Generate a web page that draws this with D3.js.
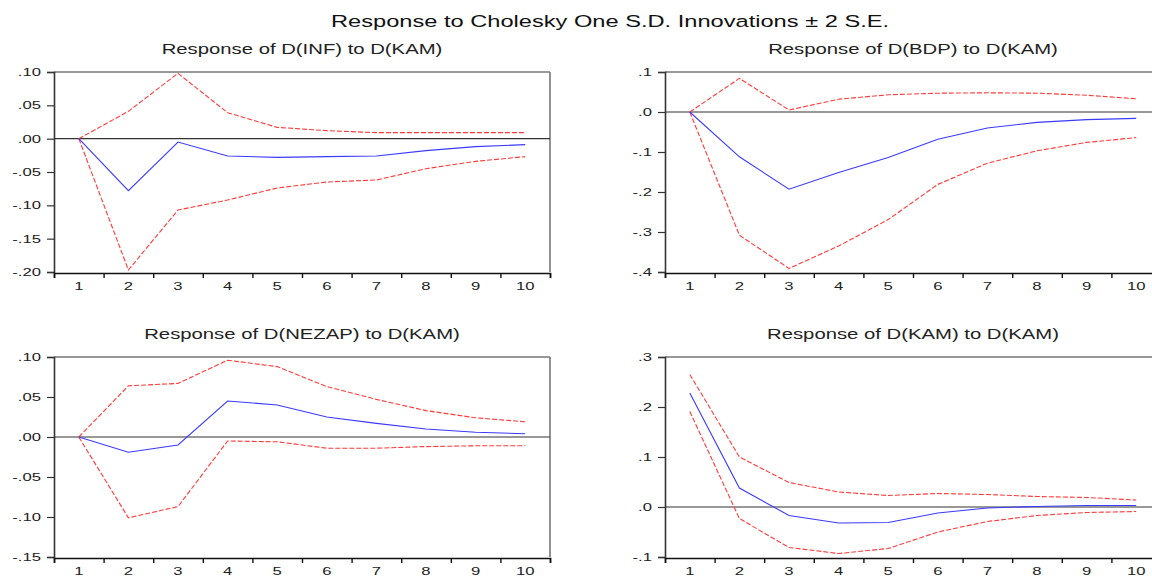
<!DOCTYPE html>
<html>
<head>
<meta charset="utf-8">
<script src="https://cdn.jsdelivr.net/npm/d3@7"></script>
<style>
  html, body { margin: 0; padding: 0; background: #fff; }
  svg { display: block; font-family: "Liberation Sans", Arial, sans-serif; }
</style>
</head>
<body>
<svg id="chart" width="1152" height="576"></svg>
<script>
// ---------- data ----------
const periods = [1, 2, 3, 4, 5, 6, 7, 8, 9, 10];

const titleMain = "Response to Cholesky One S.D. Innovations \u00B1 2 S.E.";

const titles = [
  "Response of D(INF) to D(KAM)",
  "Response of D(BDP) to D(KAM)",
  "Response of D(NEZAP) to D(KAM)",
  "Response of D(KAM) to D(KAM)"
];

// D(INF)
const infResp  = [0, -0.078, -0.005, -0.026, -0.028, -0.027, -0.026, -0.018, -0.012, -0.009];
const infUpper = [0, 0.041, 0.098, 0.039, 0.017, 0.012, 0.009, 0.009, 0.009, 0.009];
const infLower = [0, -0.197, -0.107, -0.092, -0.074, -0.065, -0.062, -0.045, -0.034, -0.027];
const infTicks = [0.10, 0.05, 0.00, -0.05, -0.10, -0.15, -0.20];
const infTickLabels = [".10", ".05", ".00", "-.05", "-.10", "-.15", "-.20"];

// D(BDP)
const bdpResp  = [0, -0.112, -0.193, -0.151, -0.114, -0.068, -0.040, -0.026, -0.019, -0.016];
const bdpUpper = [0, 0.084, 0.005, 0.032, 0.043, 0.047, 0.048, 0.047, 0.042, 0.033];
const bdpLower = [0, -0.308, -0.391, -0.335, -0.269, -0.181, -0.128, -0.097, -0.076, -0.064];
const bdpTicks = [0.1, 0.0, -0.1, -0.2, -0.3, -0.4];
const bdpTickLabels = [".1", ".0", "-.1", "-.2", "-.3", "-.4"];

// D(NEZAP)
const nezResp  = [0, -0.019, -0.010, 0.045, 0.040, 0.025, 0.017, 0.010, 0.006, 0.004];
const nezUpper = [0, 0.064, 0.067, 0.096, 0.088, 0.063, 0.047, 0.033, 0.024, 0.019];
const nezLower = [0, -0.101, -0.087, -0.005, -0.006, -0.014, -0.014, -0.012, -0.011, -0.011];
const nezTicks = [0.10, 0.05, 0.00, -0.05, -0.10, -0.15];
const nezTickLabels = [".10", ".05", ".00", "-.05", "-.10", "-.15"];

// D(KAM)
const kamResp  = [0.228, 0.038, -0.017, -0.032, -0.031, -0.012, -0.002, 0.001, 0.003, 0.003];
const kamUpper = [0.265, 0.100, 0.049, 0.030, 0.023, 0.027, 0.025, 0.021, 0.019, 0.014];
const kamLower = [0.191, -0.023, -0.081, -0.093, -0.083, -0.050, -0.029, -0.017, -0.011, -0.009];
const kamTicks = [0.3, 0.2, 0.1, 0.0, -0.1];
const kamTickLabels = [".3", ".2", ".1", ".0", "-.1"];

// ---------- layout ----------
const panels = [
  { title: titles[0], resp: infResp, up: infUpper, lo: infLower, ticks: infTicks, labels: infTickLabels, x0: 54,  y0: 72,  domain: [-0.20, 0.10] },
  { title: titles[1], resp: bdpResp, up: bdpUpper, lo: bdpLower, ticks: bdpTicks, labels: bdpTickLabels, x0: 665, y0: 72,  domain: [-0.4, 0.1] },
  { title: titles[2], resp: nezResp, up: nezUpper, lo: nezLower, ticks: nezTicks, labels: nezTickLabels, x0: 54,  y0: 357, domain: [-0.15, 0.10] },
  { title: titles[3], resp: kamResp, up: kamUpper, lo: kamLower, ticks: kamTicks, labels: kamTickLabels, x0: 665, y0: 357, domain: [-0.1, 0.3] }
];
const PW = 496, PH = 200;
const SX = 1.45; // horizontal text stretch seen in the reference

const svg = d3.select("#chart");

function stretchedText(g, x, y, str, size, anchor, color) {
  return g.append("text")
    .attr("transform", `translate(${x},${y}) scale(${SX},1)`)
    .attr("text-anchor", anchor)
    .attr("font-size", size)
    .attr("fill", color || "#222")
    .text(str);
}

stretchedText(svg, 610, 27, titleMain, 16.3, "middle", "#111");

panels.forEach(p => {
  const g = svg.append("g").attr("transform", `translate(${p.x0},${p.y0})`);
  const x = d3.scaleBand().domain(periods).range([0, PW]);
  const xc = d => x(d) + x.bandwidth() / 2;
  const y = d3.scaleLinear().domain(p.domain).range([PH, 0]);

  // subtitle
  stretchedText(g, PW / 2, -18, p.title, 14, "middle", "#222");

  // frame: top and right gray
  g.append("line").attr("x1", 0).attr("x2", PW).attr("y1", 0).attr("y2", 0)
    .attr("stroke", "#777").attr("stroke-width", 1.6);
  g.append("line").attr("x1", PW).attr("x2", PW).attr("y1", 0).attr("y2", PH)
    .attr("stroke", "#777").attr("stroke-width", 1.6);

  // zero line
  g.append("line").attr("x1", 0).attr("x2", PW).attr("y1", y(0)).attr("y2", y(0))
    .attr("stroke", "#333").attr("stroke-width", 1.2);

  // y axis
  const yAxis = d3.axisLeft(y).tickValues(p.ticks)
    .tickFormat((d, i) => p.labels[i]).tickSize(7).tickPadding(3);
  const ya = g.append("g").call(yAxis);
  ya.select(".domain").attr("stroke", "#333").attr("stroke-width", 1.6);
  ya.selectAll(".tick line").attr("stroke", "#333").attr("stroke-width", 1.2);
  ya.selectAll(".tick text").remove();
  p.ticks.forEach((t, i) => {
    stretchedText(g, -13, y(t) + 4, p.labels[i], 11.5, "end", "#222");
  });

  // x axis
  const xAxisLine = d3.axisBottom(d3.scaleLinear().domain([0, 10]).range([0, PW]))
    .tickValues(d3.range(0, 11)).tickSize(5).tickFormat("");
  const xa = g.append("g").attr("transform", `translate(0,${PH + 1})`).call(xAxisLine);
  xa.select(".domain").attr("stroke", "#111").attr("stroke-width", 1.6);
  xa.selectAll(".tick line").attr("stroke", "#111").attr("stroke-width", 1.4);
  periods.forEach(d => {
    stretchedText(g, xc(d), PH + 18, String(d), 11.5, "middle", "#222");
  });

  const line = d3.line().x((d, i) => xc(periods[i])).y(d => y(d));

  g.append("path").datum(p.up).attr("d", line)
    .attr("fill", "none").attr("stroke", "#ff3a3a").attr("stroke-width", 1.1)
    .attr("stroke-dasharray", "5,2");
  g.append("path").datum(p.lo).attr("d", line)
    .attr("fill", "none").attr("stroke", "#ff3a3a").attr("stroke-width", 1.1)
    .attr("stroke-dasharray", "5,2");
  g.append("path").datum(p.resp).attr("d", line)
    .attr("fill", "none").attr("stroke", "#3a3aff").attr("stroke-width", 1.1);
});
</script>
</body>
</html>
